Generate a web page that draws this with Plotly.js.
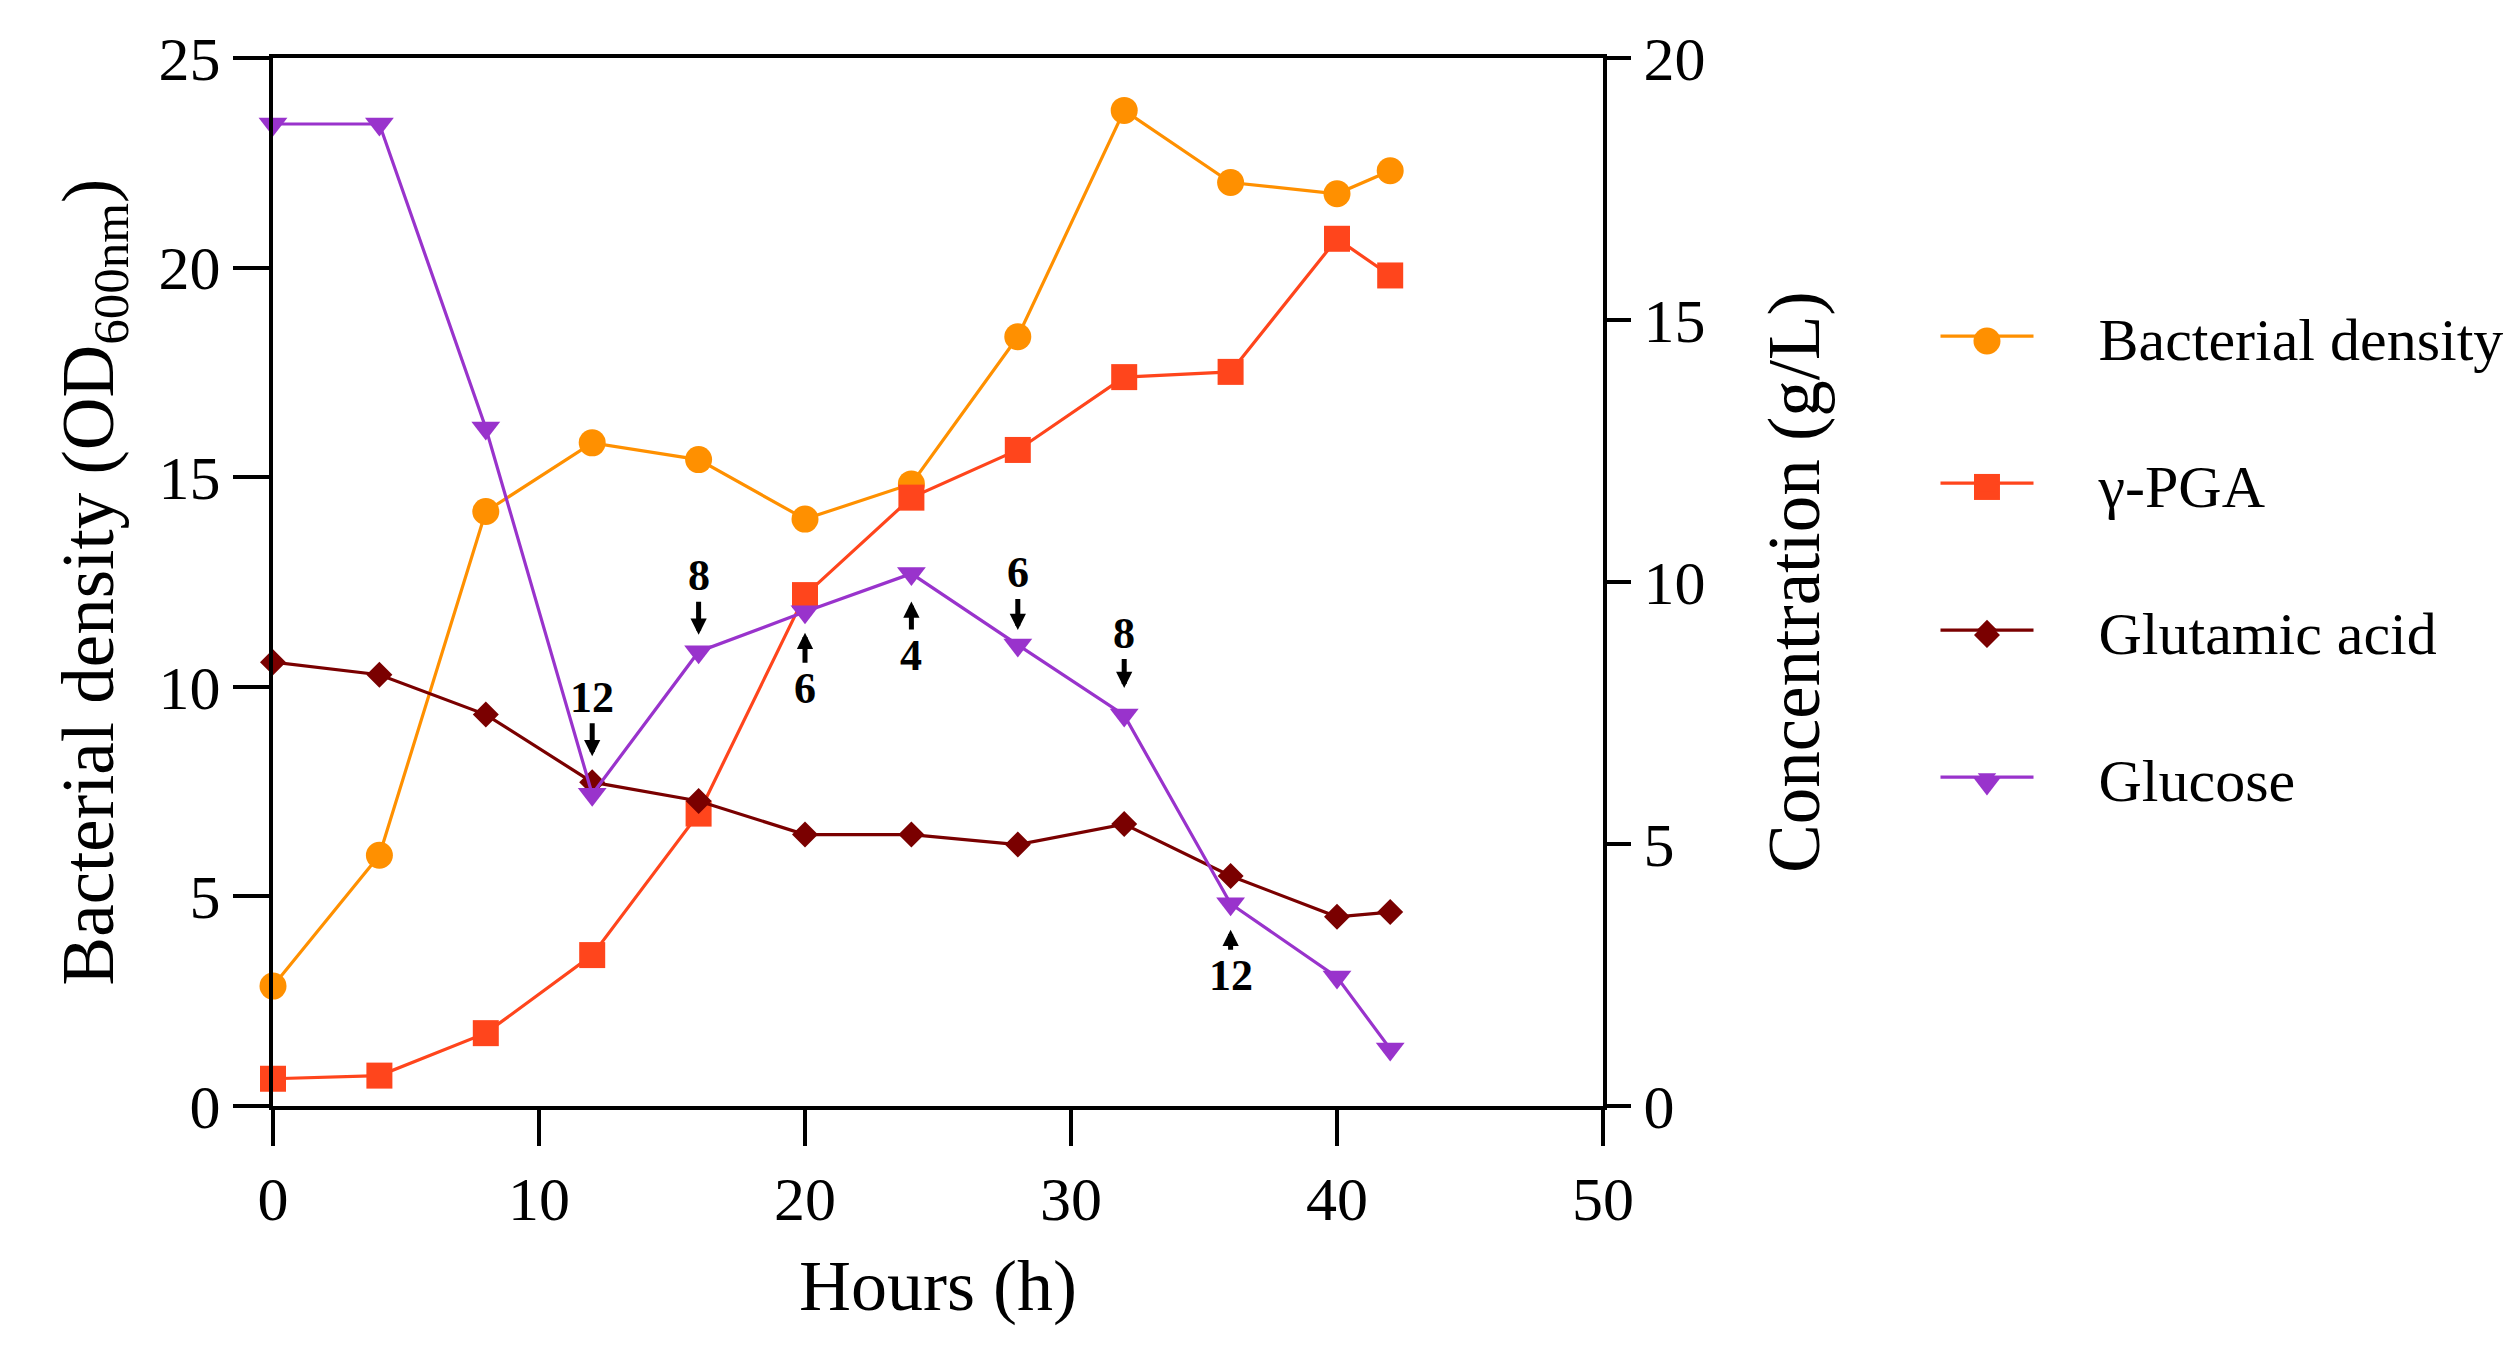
<!DOCTYPE html>
<html>
<head>
<meta charset="utf-8">
<script src="https://cdn.plot.ly/plotly-3.0.1.min.js"></script>
<style>
  html, body { margin: 0; padding: 0; background: #fff; }
  #chart { width: 2520px; height: 1349px; }
</style>
</head>
<body>
<div id="chart"></div>
<script>
// sampling times (h)
var hours = [0, 4, 8, 12, 16, 20, 24, 28, 32, 36, 40, 42];

// left axis, OD600nm
var bacterialDensity = [2.86, 5.98, 14.18, 15.82, 15.42, 14.0, 14.84, 18.35, 23.75, 22.03, 21.76, 22.31];

// right axis, g/L
var pga = [0.52, 0.58, 1.39, 2.88, 5.58, 9.75, 11.61, 12.52, 13.91, 14.01, 16.55, 15.85];
var glutamicAcid = [8.47, 8.23, 7.47, 6.18, 5.82, 5.18, 5.18, 4.99, 5.38, 4.39, 3.61, 3.70];
var glucose = [18.74, 18.74, 12.94, 5.95, 8.67, 9.43, 10.16, 8.80, 7.46, 3.86, 2.46, 1.09];

// feeding marks on the glucose curve
var feedHours = [12, 16, 20, 24, 28, 32, 36];
var feedLabels = ['12', '8', '6', '4', '6', '8', '12'];

// label offset (px) and gap to the marker for each feeding arrow
var arrowOffset = [-97, -76, 77, 82, -72, -82, 72];
var arrowGap = [38, 17, 21, 28, 15, 27, 26];

var serif = 'Liberation Serif, Times New Roman, serif';
var pad = '\u00a0\u00a0\u00a0\u00a0';
var colors = ['#FF9000', '#FF451C', '#7A0000', '#9933CC'];

var traces = [
  {
    x: hours, y: bacterialDensity, name: pad + 'Bacterial density', yaxis: 'y',
    mode: 'lines+markers', legendgroup: 'a',
    line: {color: colors[0], width: 3.2},
    marker: {symbol: 'circle', size: 27, color: colors[0]},
    cliponaxis: false
  },
  {
    x: hours, y: pga, name: pad + 'γ-PGA', yaxis: 'y2',
    mode: 'lines+markers', legendgroup: 'b',
    line: {color: colors[1], width: 3.2},
    marker: {symbol: 'square', size: 26, color: colors[1]},
    cliponaxis: false
  },
  {
    x: hours, y: glutamicAcid, name: pad + 'Glutamic acid', yaxis: 'y2',
    mode: 'lines+markers', legendgroup: 'c',
    line: {color: colors[2], width: 3.2},
    marker: {symbol: 'diamond', size: 20, color: colors[2]},
    cliponaxis: false
  },
  {
    x: hours, y: glucose, name: pad + 'Glucose', yaxis: 'y2',
    mode: 'lines+markers', legendgroup: 'd',
    line: {color: colors[3], width: 3.2},
    marker: {symbol: 'triangle-down', size: 25, color: colors[3]},
    cliponaxis: false
  }
];

var annotations = feedHours.map(function (h, i) {
  var idx = hours.indexOf(h);
  return {
    x: h, y: glucose[idx], xref: 'x', yref: 'y2',
    text: '<b>' + feedLabels[i] + '</b>',
    font: {family: serif, size: 44, color: '#000'},
    showarrow: true, arrowhead: 2, arrowsize: 0.65, arrowwidth: 5,
    arrowcolor: '#000',
    ax: 0, ay: arrowOffset[i],
    standoff: arrowGap[i]
  };
});

// legend keys drawn at full marker size (the legend caps marker size at 16px)
var keyX = 1.2887;
var keyY = [0.7300, 0.5907, 0.4494, 0.3082];
var keyPaths = [
  null,
  'M-13,-13 L13,-13 L13,13 L-13,13 Z',
  'M0,13 L13,0 L0,-13 L-13,0 Z',
  'M-14.4,6.2 L14.4,6.2 L0,-12.5 Z'
];
var shapes = keyY.map(function (y, i) {
  var s = {
    xref: 'paper', yref: 'paper', xsizemode: 'pixel', ysizemode: 'pixel',
    xanchor: keyX, yanchor: y,
    fillcolor: colors[i], line: {width: 0}, layer: 'above'
  };
  if (i === 0) {
    s.type = 'circle';
    s.x0 = -13.5; s.x1 = 13.5; s.y0 = -13.5; s.y1 = 13.5;
  } else {
    s.type = 'path';
    s.path = keyPaths[i];
  }
  return s;
});

var layout = {
  width: 2520, height: 1349,
  margin: {l: 273, r: 917, t: 58, b: 243},
  paper_bgcolor: '#fff', plot_bgcolor: '#fff',
  font: {family: serif, color: '#000', size: 62},
  showlegend: true,
  legend: {
    x: 1.25, y: 0.778, xanchor: 'left', yanchor: 'top',
    font: {family: serif, size: 60, color: '#000'},
    itemwidth: 93, tracegroupgap: 66, traceorder: 'grouped',
    bgcolor: 'rgba(0,0,0,0)'
  },
  xaxis: {
    range: [0, 50], dtick: 10, tick0: 0,
    showline: true, linecolor: '#000', linewidth: 4, mirror: true,
    ticks: 'outside', ticklen: 36, tickwidth: 4, tickcolor: '#000',
    showgrid: false, zeroline: false,
    tickfont: {family: serif, size: 62},
    title: {text: 'Hours (h)', font: {family: serif, size: 72}, standoff: 28}
  },
  yaxis: {
    range: [0, 25], dtick: 5, tick0: 0,
    showline: true, linecolor: '#000', linewidth: 4,
    ticks: 'outside', ticklen: 36, tickwidth: 4, tickcolor: '#000',
    showgrid: false, zeroline: false,
    tickfont: {family: serif, size: 62},
    title: {text: 'Bacterial density (OD<sub>600nm</sub>)', font: {family: serif, size: 73}, standoff: 22}
  },
  yaxis2: {
    range: [0, 20], dtick: 5, tick0: 0,
    overlaying: 'y', side: 'right',
    showline: true, linecolor: '#000', linewidth: 4,
    ticks: 'outside', ticklen: 24, tickwidth: 4, tickcolor: '#000',
    showgrid: false, zeroline: false,
    tickfont: {family: serif, size: 62},
    title: {text: 'Concentration (g/L)', font: {family: serif, size: 73}, standoff: 64}
  },
  annotations: annotations,
  shapes: shapes
};

Plotly.newPlot('chart', traces, layout, {displayModeBar: false, staticPlot: true});
</script>
</body>
</html>
